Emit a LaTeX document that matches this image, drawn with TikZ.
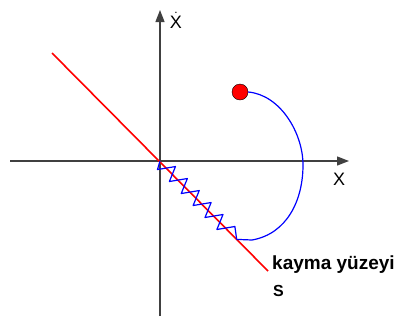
\documentclass[tikz,border=0pt]{standalone}
\usepackage{amsmath}
\usepackage{fontspec}
\setmainfont{Liberation Sans}
\usetikzlibrary{arrows.meta,calc}
\tikzset{
  axis/.style={draw=black!75, line width=1.3pt, -{Triangle[length=12pt,width=9pt]}},
  sline/.style={draw=red, line width=1.6pt},
  traj/.style={draw=blue, line width=1.2pt, line join=round},
  lab/.style={font=\fontsize{18}{20}\selectfont, inner sep=0pt},
}
\begin{document}
\begin{tikzpicture}[x=1pt,y=-1pt]
\useasboundingbox (0,0) rectangle (401,322);

% axes
\coordinate (o) at (160,161);
\coordinate (xl) at (10,161);
\coordinate (xr) at (349,161);
\coordinate (yb) at (160,316);
\coordinate (yt) at (160,10);
\draw[axis] (xl) -- (xr);
\draw[axis] (yb) -- (yt);
\node[lab, anchor=north] (xlab) at (339,173) {X};
\node[lab, anchor=south] (ylab) at (176,29) {$\dot{\text{X}}$};

% sliding surface
\coordinate (s1) at (52,53);
\coordinate (s2) at (268,271);
\draw[sline] (s1) -- (s2);
\node[font=\fontsize{19}{21}\selectfont\bfseries, anchor=west, inner sep=0pt]
  (kay) at (272,265) {kayma yüzeyi};
\node[font=\fontsize{16}{18}\selectfont\bfseries, anchor=west, inner sep=0pt]
  (S) at (273,291) {S};

% trajectory
\node[circle, fill=red, draw=black, line width=0.4pt, minimum size=16pt,
      inner sep=0pt] (p0) at (240,92) {};
\coordinate (e) at ($(s1)!0.855!(s2)$);
\draw[traj] (p0.east) to[out=-5,in=90,looseness=0.9] (303,165)
  to[out=-90,in=10] (252,240) -- (e);
\draw[traj] (o) \foreach \t in {0.53,0.585,0.64,0.695,0.75,0.805} {
    -- ($(s1)!\t!(s2)+(-9,1)$) -- ($(s1)!\t!(s2)+(9,-2)$) }
  -- (e);
\end{tikzpicture}
\end{document}
